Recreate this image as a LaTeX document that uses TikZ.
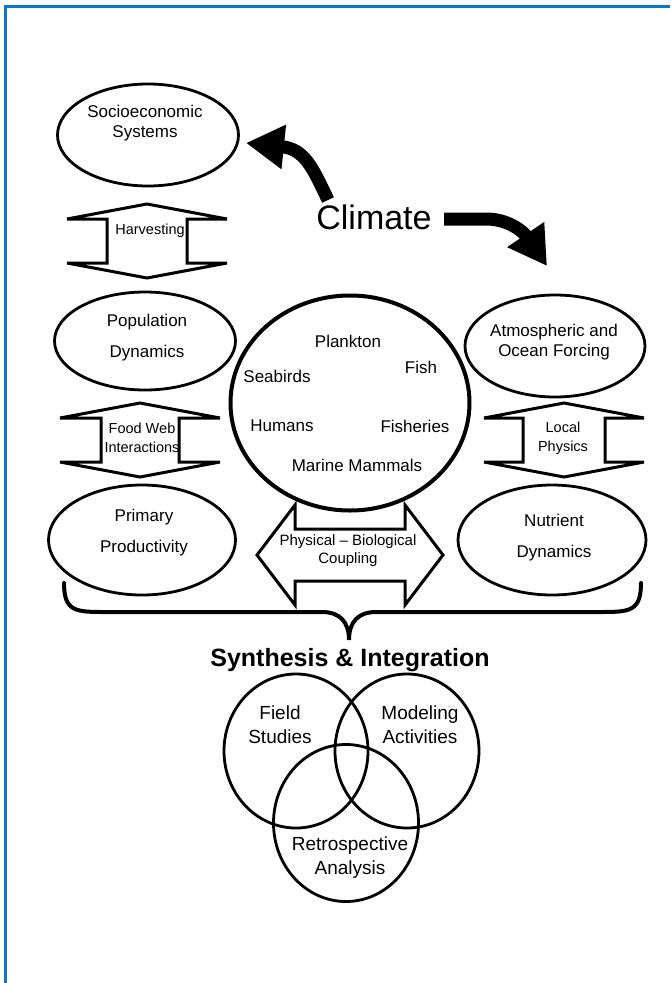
\documentclass[tikz,border=0pt]{standalone}
\usepackage{fontspec}
\setmainfont{Liberation Sans}
\usetikzlibrary{arrows.meta,shapes.geometric}

\definecolor{frameblue}{RGB}{12,118,200}

\tikzset{
  bubble/.style={draw, ellipse, line width=2.8pt, fill=white, inner sep=0pt},
  venn/.style={draw, ellipse, line width=2.8pt, inner sep=0pt},
  lbl/.style={align=center, font=\fontsize{17}{20}\selectfont, inner sep=0pt},
  widelbl/.style={align=center, font=\fontsize{17}{31}\selectfont, inner sep=0pt},
  smalllbl/.style={align=center, font=\fontsize{14.5}{19}\selectfont, inner sep=0pt},
  vennlbl/.style={align=center, font=\fontsize{19}{24}\selectfont, inner sep=0pt},
  blockarrow/.style={draw, line width=3pt, line join=miter, fill=white},
  climarrow/.style={line width=13pt, -{Triangle[length=38pt,width=42pt]}},
}

% vertical hollow double arrow: #1 centre, #2 half shaft width
\newcommand{\vblock}[2]{%
  \draw[blockarrow, shift={#1}] (0,-37) -- (80,-22) -- (#2,-22) -- (#2,22) -- (80,22)
    -- (0,37) -- (-80,22) -- (-#2,22) -- (-#2,-22) -- (-80,-22) -- cycle;}

\begin{document}
\begin{tikzpicture}[x=1pt, y=-1pt]
  \useasboundingbox (0,0) rectangle (670,983);
  \draw[frameblue, line width=3pt] (5,983) -- (5,6) -- (670,6);

  % Climate and its two arrows
  \node[font=\fontsize{34}{40}\selectfont, inner sep=0pt] (climate) at (374,217) {Climate};
  \coordinate (climL) at (328,200);
  \coordinate (climR) at (444,219);
  \coordinate (socioTip) at (246,143);
  \coordinate (atmosTip) at (547,266);
  \draw[climarrow] (climL) .. controls (312,166) and (304,149) .. (socioTip);
  \draw[climarrow] (climR) -- (486,219) .. controls (514,219) and (528,238) .. (atmosTip);

  % Block arrows
  \vblock{(147,241)}{40}
  \vblock{(140,440)}{39}
  \vblock{(564,440)}{41}
  \draw[blockarrow, shift={(350,555)}] (-93,0) -- (-55,-50) -- (-55,-26) -- (55,-26) -- (55,-50)
    -- (93,0) -- (55,50) -- (55,26) -- (-55,26) -- (-55,50) -- cycle;

  % Ellipses
  \node[bubble, minimum width=181pt, minimum height=102pt] (socio) at (148,135) {};
  \node[bubble, minimum width=181pt, minimum height=98pt] (popdyn) at (145,341) {};
  \node[bubble, minimum width=180pt, minimum height=102pt] (atmos) at (555,346) {};
  \node[bubble, minimum width=187pt, minimum height=110pt] (primary) at (142,540) {};
  \node[bubble, minimum width=188pt, minimum height=110pt] (nutrient) at (552,540) {};
  \node[bubble, line width=4pt, minimum width=239pt, minimum height=215pt] (biota) at (350,403) {};

  % Texts
  \node[lbl] (sociotxt) at (145,123) {Socioeconomic\\Systems};
  \node[smalllbl] (harvtxt) at (150,231) {Harvesting};
  \node[widelbl] (poptxt) at (147,338) {Population\\Dynamics};
  \node[lbl] (atmostxt) at (554,342) {Atmospheric and\\Ocean Forcing};
  \node[smalllbl] (foodtxt) at (142,438) {Food Web\\Interactions};
  \node[smalllbl] (localtxt) at (563,438) {Local\\Physics};
  \node[widelbl] (primtxt) at (144,533) {Primary\\Productivity};
  \node[widelbl] (nuttxt) at (554,538) {Nutrient\\Dynamics};
  \node[smalllbl, font=\fontsize{15}{18}\selectfont] (couptxt) at (348,551) {Physical -- Biological\\Coupling};

  \node[lbl] (plankton) at (348,341) {Plankton};
  \node[lbl] (fish) at (421,367) {Fish};
  \node[lbl] (seabirds) at (277,376) {Seabirds};
  \node[lbl] (humans) at (282,426) {Humans};
  \node[lbl] (fisheries) at (415,426) {Fisheries};
  \node[lbl] (mammals) at (357,465) {Marine Mammals};

  % Brace
  \draw[line width=4pt, line cap=round] (64,583) .. controls (64,612) and (76,612) .. (106,612)
    -- (322,612) .. controls (340,612) and (349,622) .. (349,640)
    .. controls (349,622) and (358,612) .. (376,612)
    -- (599,612) .. controls (629,612) and (641,612) .. (641,583);

  % Synthesis
  \node[font=\bfseries\fontsize{25}{30}\selectfont, inner sep=0pt] (synth) at (350,660) {Synthesis \& Integration};
  \node[venn, minimum width=144pt, minimum height=154pt] (field) at (296,751) {};
  \node[venn, minimum width=144pt, minimum height=154pt] (model) at (407,751) {};
  \node[venn, minimum width=145pt, minimum height=157pt] (retro) at (346,823) {};
  \node[vennlbl] (fieldtxt) at (280,725) {Field\\Studies};
  \node[vennlbl] (modeltxt) at (420,725) {Modeling\\Activities};
  \node[vennlbl] (retrotxt) at (350,858) {Retrospective\\Analysis};
\end{tikzpicture}
\end{document}
